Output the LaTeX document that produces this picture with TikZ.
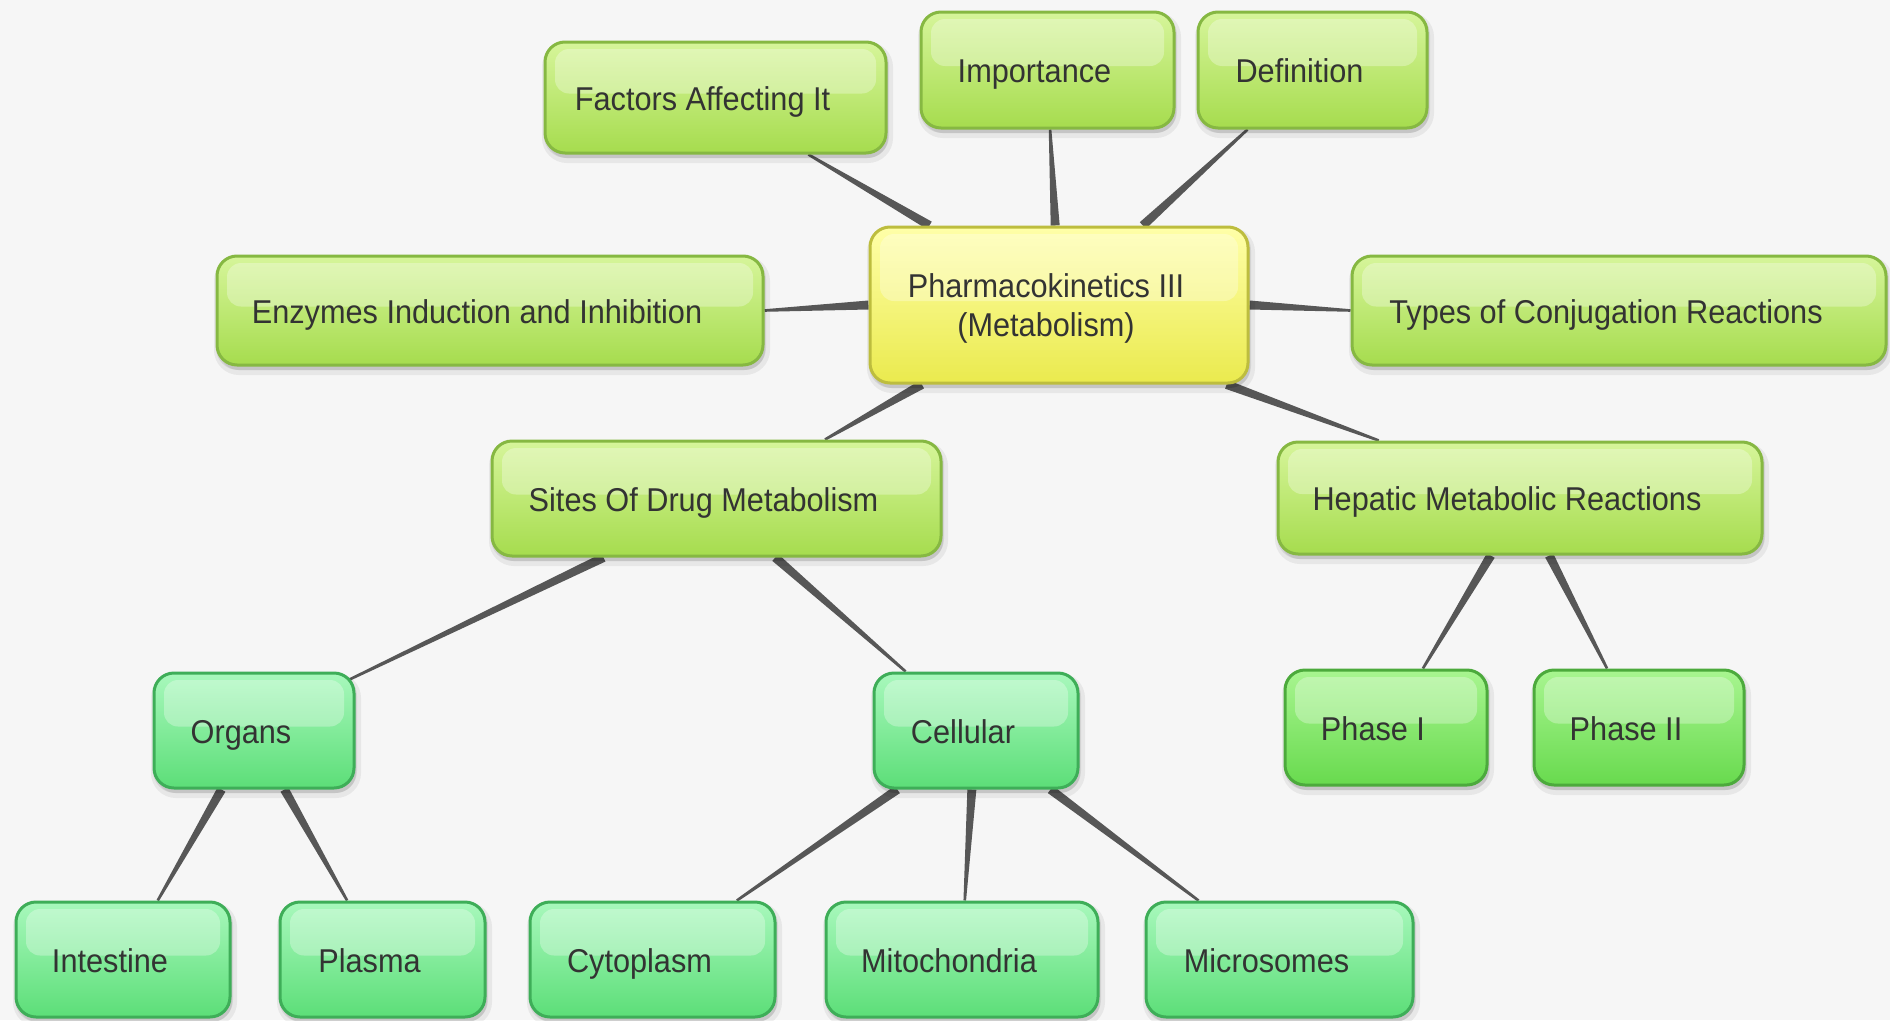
\documentclass[tikz,border=0pt]{standalone}
\usepackage{fontspec}
\setmainfont{Liberation Sans}[FakeStretch=0.93]
\usetikzlibrary{calc}
\pgfdeclarelayer{bg}
\pgfsetlayers{bg,main}
\definecolor{bgc}{HTML}{F6F6F6}
\definecolor{linec}{HTML}{575757}
\definecolor{txt}{HTML}{333333}
\definecolor{yelT}{HTML}{FFFFA8}
\definecolor{yelB}{HTML}{EAEA4E}
\definecolor{yelD}{HTML}{BDBD3E}
\definecolor{limT}{HTML}{D6F59A}
\definecolor{limB}{HTML}{A6DC4E}
\definecolor{limD}{HTML}{86B842}
\definecolor{grnT}{HTML}{A8F590}
\definecolor{grnB}{HTML}{68DA4E}
\definecolor{grnD}{HTML}{4CAA3C}
\definecolor{minT}{HTML}{A8F8BC}
\definecolor{minB}{HTML}{5CDE78}
\definecolor{minD}{HTML}{3EAE58}
\newcommand\taper[2]{\fill[linec] ($(#1)!4.5pt!90:(#2)$) -- ($(#2)!1.3pt!-90:(#1)$) -- ($(#2)!1.3pt!90:(#1)$) -- ($(#1)!4.5pt!-90:(#2)$) -- cycle;}
\tikzset{
  boxbase/.style={rectangle, rounded corners=20pt, line width=3pt, inner sep=0pt, text=txt,
    font=\fontsize{33}{39}\selectfont,
    preaction={draw=black, line width=10pt, draw opacity=0.06, fill=black, fill opacity=0.07, transform canvas={xshift=2pt,yshift=-5pt}},
    preaction={draw=black, line width=4pt, draw opacity=0.08, transform canvas={xshift=1pt,yshift=-3pt}},
    path picture={\fill[white,opacity=0.3,rounded corners=14pt]
      ([xshift=10pt,yshift=-7pt]path picture bounding box.north west) rectangle
      ([xshift=-10pt,yshift=4pt]path picture bounding box.east);}},
  box/.style={boxbase, text height=32pt, text depth=7pt, execute at end node={\hspace*{26pt}}},
  yel/.style={boxbase, draw=yelD, top color=yelT, bottom color=yelB, align=center},
  lim/.style={box, draw=limD, top color=limT, bottom color=limB},
  grn/.style={box, draw=grnD, top color=grnT, bottom color=grnB},
  mnt/.style={box, draw=minD, top color=minT, bottom color=minB},
}
\begin{document}
\begin{tikzpicture}[x=1pt,y=-1pt]
\begin{pgfonlayer}{bg}
\fill[bgc] (0,0) rectangle (1890,1020);
\end{pgfonlayer}
\useasboundingbox (0,0) rectangle (1890,1020);
% nodes
\node[yel, minimum width=378pt, minimum height=156pt, text depth=-4pt] (ctr) at (1059,305) {Pharmacokinetics III\hspace*{26pt}\\(Metabolism)\hspace*{26pt}};
\node[lim, minimum width=341pt, minimum height=111pt] (fac) at (715.5,97.5) {Factors Affecting It};
\node[lim, minimum width=253pt, minimum height=116pt] (imp) at (1047.5,70) {Importance};
\node[lim, minimum width=229pt, minimum height=116pt] (def) at (1312.5,70) {Definition};
\node[lim, minimum width=546pt, minimum height=109pt] (enz) at (490,310.5) {Enzymes Induction and Inhibition};
\node[lim, minimum width=534pt, minimum height=109pt] (typ) at (1619,310.5) {Types of Conjugation Reactions};
\node[lim, minimum width=449pt, minimum height=115pt] (sit) at (716.5,498.5) {Sites Of Drug Metabolism};
\node[lim, minimum width=484pt, minimum height=112pt] (hep) at (1520,498) {Hepatic Metabolic Reactions};
\node[mnt, minimum width=200pt, minimum height=115pt] (org) at (254,730.5) {Organs};
\node[mnt, minimum width=204pt, minimum height=115pt] (cel) at (976,730.5) {Cellular};
\node[grn, minimum width=202pt, minimum height=115pt] (ph1) at (1386,727.5) {Phase I};
\node[grn, minimum width=210pt, minimum height=115pt] (ph2) at (1639,727.5) {Phase II};
\node[mnt, minimum width=214pt, minimum height=115pt] (int) at (123,959.5) {Intestine};
\node[mnt, minimum width=205pt, minimum height=115pt] (pla) at (382.5,959.5) {Plasma};
\node[mnt, minimum width=245pt, minimum height=115pt] (cyt) at (652.5,959.5) {Cytoplasm};
\node[mnt, minimum width=272pt, minimum height=115pt] (mit) at (962,959.5) {Mitochondria};
\node[mnt, minimum width=267pt, minimum height=115pt] (mic) at (1279.5,959.5) {Microsomes};
% connector end points
\coordinate (pfac) at ($(ctr.north west)!0.16!(ctr.north east)$);
\coordinate (cfac) at ($(fac.south west)!0.77!(fac.south east)$);
\coordinate (pimp) at ($(ctr.north west)!0.49!(ctr.north east)$);
\coordinate (cimp) at ($(imp.south west)!0.51!(imp.south east)$);
\coordinate (pdef) at ($(ctr.north west)!0.72!(ctr.north east)$);
\coordinate (cdef) at ($(def.south west)!0.22!(def.south east)$);
\coordinate (psit) at ($(ctr.south west)!0.14!(ctr.south east)$);
\coordinate (csit) at ($(sit.north west)!0.74!(sit.north east)$);
\coordinate (phep) at ($(ctr.south west)!0.94!(ctr.south east)$);
\coordinate (chep) at ($(hep.north west)!0.21!(hep.north east)$);
\coordinate (porg) at ($(sit.south west)!0.25!(sit.south east)$);
\coordinate (corg) at ($(org.north east)+(-6,8)$);
\coordinate (pcel) at ($(sit.south west)!0.63!(sit.south east)$);
\coordinate (ccel) at ($(cel.north west)!0.16!(cel.north east)$);
\coordinate (pph1) at ($(hep.south west)!0.44!(hep.south east)$);
\coordinate (cph1) at ($(ph1.north west)!0.68!(ph1.north east)$);
\coordinate (pph2) at ($(hep.south west)!0.56!(hep.south east)$);
\coordinate (cph2) at ($(ph2.north west)!0.35!(ph2.north east)$);
\coordinate (pint) at ($(org.south west)!0.34!(org.south east)$);
\coordinate (cint) at ($(int.north west)!0.66!(int.north east)$);
\coordinate (ppla) at ($(org.south west)!0.65!(org.south east)$);
\coordinate (cpla) at ($(pla.north west)!0.33!(pla.north east)$);
\coordinate (pcyt) at ($(cel.south west)!0.12!(cel.south east)$);
\coordinate (ccyt) at ($(cyt.north west)!0.84!(cyt.north east)$);
\coordinate (pmit) at ($(cel.south west)!0.48!(cel.south east)$);
\coordinate (cmit) at ($(mit.north west)!0.51!(mit.north east)$);
\coordinate (pmic) at ($(cel.south west)!0.86!(cel.south east)$);
\coordinate (cmic) at ($(mic.north west)!0.2!(mic.north east)$);
\begin{pgfonlayer}{bg}
\taper{pfac}{cfac}
\taper{pimp}{cimp}
\taper{pdef}{cdef}
\taper{ctr.west}{enz.east}
\taper{ctr.east}{typ.west}
\taper{psit}{csit}
\taper{phep}{chep}
\taper{porg}{corg}
\taper{pcel}{ccel}
\taper{pph1}{cph1}
\taper{pph2}{cph2}
\taper{pint}{cint}
\taper{ppla}{cpla}
\taper{pcyt}{ccyt}
\taper{pmit}{cmit}
\taper{pmic}{cmic}
\end{pgfonlayer}
\end{tikzpicture}
\end{document}
